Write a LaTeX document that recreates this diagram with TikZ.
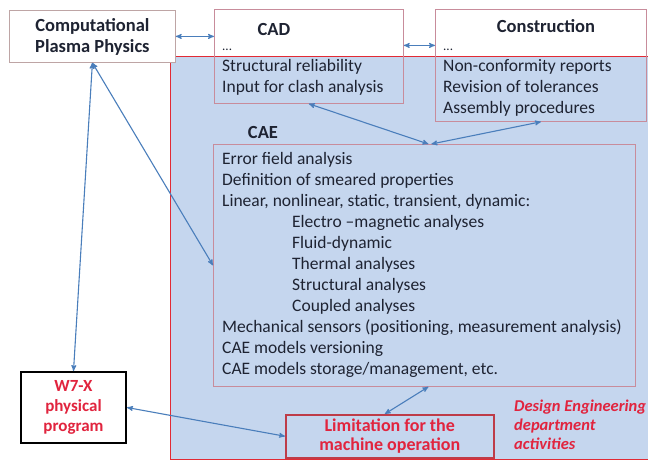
\documentclass[tikz,border=0pt]{standalone}
\usepackage{fontspec}
\setmainfont{Carlito}
\usetikzlibrary{arrows,positioning,calc}

\definecolor{deptblue}{RGB}{197,214,238}
\definecolor{deptred}{RGB}{226,42,52}
\definecolor{boxpink}{RGB}{200,140,155}
\definecolor{cppgray}{RGB}{190,165,165}
\definecolor{limred}{RGB}{190,60,72}
\definecolor{linkblue}{RGB}{74,126,187}
\definecolor{textdark}{RGB}{30,35,50}
\definecolor{labelred}{RGB}{225,36,62}

\begin{document}
\begin{tikzpicture}[x=1pt, y=-1pt, >=stealth',
    every node/.style={inner sep=0pt, text=textdark},
    box/.style={draw=boxpink, line width=0.8pt, anchor=north west},
    txt/.style={align=left, anchor=north west, font=\fontsize{17.5}{21}\selectfont},
    head/.style={anchor=base, font=\fontsize{18.5}{21}\selectfont\bfseries},
    redtxt/.style={text=labelred, align=center, font=\fontsize{17}{20}\selectfont\bfseries},
    link/.style={<->, color=linkblue, line width=1.1pt}]
    \useasboundingbox (0,0) rectangle (648,463);

    % design engineering area
    \node[fill=deptblue, draw=deptred, line width=1.3pt, anchor=north west,
          minimum width=482pt, minimum height=403pt]         (dept)    at (170,56)   {};

    \node[box, draw=cppgray, fill=white, minimum width=166pt, minimum height=52pt,
          align=center, font=\fontsize{18.5}{21}\selectfont\bfseries]
                                                            (cpp)     at (9,10)     {\rule{0pt}{15pt}Computational\\Plasma Physics};
    \node[box, minimum width=189pt, minimum height=94pt]    (cad)     at (214,9)    {};
    \node[box, minimum width=211pt, minimum height=112pt]   (con)     at (435,9)    {};
    \node[box, minimum width=422pt, minimum height=242pt]   (cae)     at (213,144)  {};
    \node[redtxt, draw=limred, line width=1.5pt, anchor=north west,
          minimum width=208pt, minimum height=43pt, font=\fontsize{18}{18.5}\selectfont\bfseries]
                                                            (lim)     at (285,414)  {Limitation for the\\machine operation};
    \node[redtxt, draw=black, line width=2pt, fill=white, anchor=north west,
          minimum width=105pt, minimum height=71pt]         (w7x)     at (20,371)   {W7-X\\physical\\program};

    % headers and contents
    \node[head]                                             (cadhead) at (274,35)   {CAD};
    \node[head]                                             (conhead) at (546,32)   {Construction};
    \node[head]                                             (caehead) at (263,138)  {CAE};
    \node[txt, anchor=base west, font=\fontsize{13}{15}\selectfont] (caddots) at (222,50) {...};
    \node[txt, anchor=base west, font=\fontsize{13}{15}\selectfont] (condots) at (443,50) {...};
    \node[txt]                                              (cadtext) at (222,59)   {Structural reliability\\Input for clash analysis};
    \node[txt]                                              (context) at (443,59)   {Non-conformity reports\\Revision of tolerances\\Assembly procedures};
    \node[txt]                                              (caetext) at (222,152)  {Error field analysis\\
        Definition of smeared properties\\
        Linear, nonlinear, static, transient, dynamic:\\
        \hspace*{70pt}Electro --magnetic analyses\\
        \hspace*{70pt}Fluid-dynamic\\
        \hspace*{70pt}Thermal analyses\\
        \hspace*{70pt}Structural analyses\\
        \hspace*{70pt}Coupled analyses\\
        Mechanical sensors (positioning, measurement analysis)\\
        CAE models versioning\\
        CAE models storage/management, etc.};
    \node[txt, text=labelred, font=\fontsize{16.5}{19}\selectfont\bfseries\itshape]
                                                            (deptlbl) at (514,400)  {Design Engineering\\department\\activities};

    \path[link] (cpp.east)                 edge (cpp.east -| cad.west)
                ([yshift=11pt]cad.east)    edge ([yshift=11pt]cad.east -| con.west)
                (cpp.south)                edge (w7x.north)
                                           edge (cae.west)
                (cad.south)                edge ([xshift=4pt]cae.north)
                (con.south)                edge ([xshift=7pt]cae.north)
                ([xshift=4pt]cae.south)    edge ([xshift=-5pt]lim.north)
                (w7x.east)                 edge (lim.west);
\end{tikzpicture}
\end{document}
